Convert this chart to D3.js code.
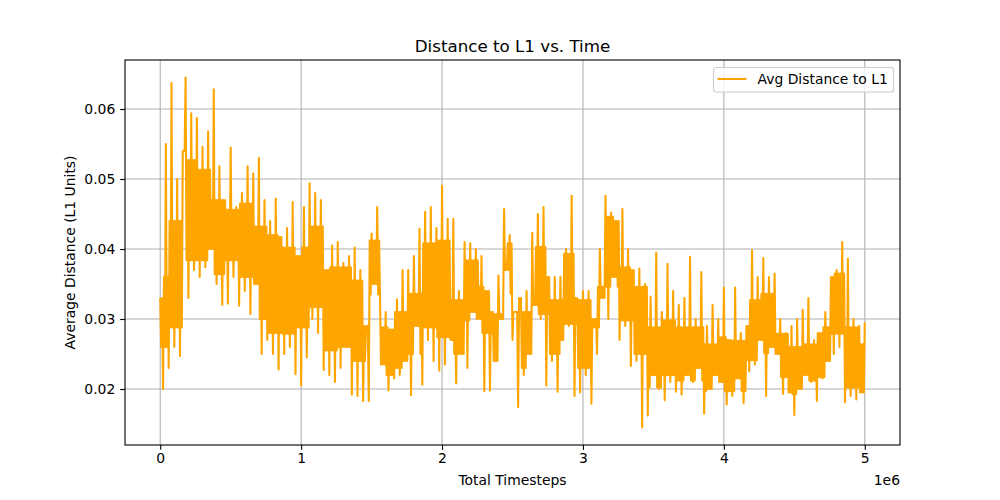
<!DOCTYPE html>
<html>
<head>
<meta charset="utf-8">
<script src="https://cdn.jsdelivr.net/npm/d3@7"></script>
<style>
  body { margin: 0; background: #fff; }
  svg { display: block; font-family: "DejaVu Sans", sans-serif; }
  .grid line { stroke: #b0b0b0; stroke-width: 1.1; }
  .line { fill: none; stroke: orange; stroke-width: 2.08; stroke-linejoin: round; }
</style>
</head>
<body>
<svg id="chart" width="1000" height="500"></svg>
<script>
// logging interval of the run (timesteps between points)
var step = 20000;

var avgDistance = [
  0.033, 0.020, 0.055, 0.023, 0.0637, 0.026, 0.050, 0.0247, 0.054, 0.0645,
  0.033, 0.0594, 0.037, 0.0587, 0.036, 0.0546, 0.0374, 0.0568, 0.040, 0.0628,
  0.035, 0.0518, 0.032, 0.047, 0.0322, 0.0545, 0.036, 0.046, 0.0319, 0.048,
  0.034, 0.0518, 0.0307, 0.0508, 0.035, 0.053, 0.025, 0.047, 0.027, 0.044,
  0.025, 0.0472, 0.0228, 0.0417, 0.025, 0.043, 0.026, 0.0467, 0.0221, 0.039,
  0.0205, 0.046, 0.0245, 0.0494, 0.030, 0.048, 0.028, 0.047, 0.0227, 0.037,
  0.022, 0.0405, 0.021, 0.041, 0.023, 0.038, 0.026, 0.039, 0.0192, 0.0402,
  0.019, 0.037, 0.0183, 0.029, 0.0183, 0.0422, 0.035, 0.046, 0.033, 0.0235,
  0.031, 0.0198, 0.0285, 0.0215, 0.0328, 0.022, 0.037, 0.024, 0.037, 0.0191,
  0.039, 0.029, 0.0429, 0.0206, 0.0453, 0.027, 0.046, 0.024, 0.043, 0.0226,
  0.049, 0.0235, 0.0443, 0.027, 0.0443, 0.0208, 0.034, 0.025, 0.041, 0.023,
  0.0408, 0.031, 0.040, 0.030, 0.039, 0.0197, 0.034, 0.0198, 0.031, 0.024,
  0.0362, 0.030, 0.0457, 0.037, 0.042, 0.027, 0.031, 0.0174, 0.033, 0.022,
  0.034, 0.025, 0.0423, 0.032, 0.045, 0.030, 0.046, 0.0205, 0.036, 0.024,
  0.036, 0.0196, 0.036, 0.027, 0.040, 0.029, 0.0476, 0.019, 0.033, 0.0195,
  0.034, 0.022, 0.034, 0.0179, 0.030, 0.025, 0.040, 0.033, 0.0476, 0.030,
  0.0452, 0.036, 0.044, 0.027, 0.0457, 0.029, 0.040, 0.0233, 0.037, 0.024,
  0.0372, 0.0145, 0.035, 0.0162, 0.0332, 0.022, 0.0395, 0.020, 0.031, 0.0184,
  0.0379, 0.021, 0.034, 0.0196, 0.032, 0.0192, 0.033, 0.022, 0.0389, 0.021,
  0.030, 0.023, 0.0367, 0.0165, 0.029, 0.020, 0.032, 0.022, 0.030, 0.021,
  0.0345, 0.0178, 0.027, 0.019, 0.0345, 0.0215, 0.028, 0.018, 0.029, 0.0225,
  0.0398, 0.0235, 0.036, 0.027, 0.0387, 0.019, 0.036, 0.026, 0.0365, 0.025,
  0.030, 0.0193, 0.028, 0.0195, 0.029, 0.0163, 0.030, 0.020, 0.0313, 0.022,
  0.033, 0.021, 0.027, 0.0183, 0.028, 0.0215, 0.031, 0.024, 0.036, 0.025,
  0.037, 0.026, 0.041, 0.0181, 0.0386, 0.019, 0.030, 0.0185, 0.029, 0.0195,
  0.0295
];

// the dense core of the trace, top and bottom, read every 100k steps
var coreStep = 100000;
var coreHigh = [
  0.036, 0.044, 0.0527, 0.0513, 0.047, 0.0456, 0.0465, 0.0432, 0.042, 0.0402,
  0.0402, 0.0432, 0.0374, 0.0374, 0.0355, 0.0412, 0.0288, 0.031, 0.0336, 0.0408,
  0.0412, 0.0327, 0.0384, 0.0346, 0.0307, 0.0408, 0.031, 0.0403, 0.0327, 0.0393,
  0.0327, 0.0346, 0.0446, 0.0374, 0.0346, 0.0288, 0.0298, 0.0288, 0.0288, 0.0264,
  0.0274, 0.0269, 0.0327, 0.0336, 0.0279, 0.026, 0.0264, 0.0288, 0.0365, 0.0288,
  0.0264
];
var coreLow = [
  0.026, 0.0288, 0.0384, 0.0384, 0.0364, 0.0384, 0.036, 0.030, 0.028, 0.0279,
  0.0288, 0.0317, 0.0255, 0.026, 0.024, 0.0335, 0.022, 0.023, 0.025, 0.0288,
  0.0274, 0.025, 0.0298, 0.028, 0.023, 0.0336, 0.023, 0.0307, 0.025, 0.0293,
  0.023, 0.0288, 0.0346, 0.0298, 0.025, 0.0202, 0.022, 0.0212, 0.0212, 0.0197,
  0.0197, 0.0197, 0.0241, 0.0251, 0.0217, 0.0193, 0.0212, 0.0217, 0.0279, 0.0202,
  0.0193
];

var xTicks = [0, 1e6, 2e6, 3e6, 4e6, 5e6];
var xTickLabels = ["0", "1", "2", "3", "4", "5"];
var xOffsetLabel = "1e6";
var yTicks = [0.02, 0.03, 0.04, 0.05, 0.06];
var yTickLabels = ["0.02", "0.03", "0.04", "0.05", "0.06"];

var titleText = "Distance to L1 vs. Time";
var xLabelText = "Total Timesteps";
var yLabelText = "Average Distance (L1 Units)";
var legendText = "Avg Distance to L1";

// build the trace: each swing passes back and forth through the core band
var data = [];
avgDistance.forEach(function(v, i) {
    var t = i * step;
    data.push([t, v]);
    if (i == avgDistance.length - 1) return;
    var next = avgDistance[i + 1];
    var c = Math.min(Math.round(t / coreStep), coreHigh.length - 1);
    var lo = Math.min(v, next), hi = Math.max(v, next);
    var ch = Math.max(lo, Math.min(hi, coreHigh[c]));
    var cl = Math.max(lo, Math.min(hi, coreLow[c]));
    if (v > next) {
        data.push([t + step / 3, cl], [t + 2 * step / 3, ch]);
    } else {
        data.push([t + step / 3, ch], [t + 2 * step / 3, cl]);
    }
});

var plotLeft = 125, plotRight = 900, plotTop = 60, plotBottom = 445;

var svg = d3.select("#chart");

// matplotlib style 5% padding around the data
var xExt = d3.extent(data, function(d) { return d[0]; });
var yExt = d3.extent(data, function(d) { return d[1]; });
var xPad = (xExt[1] - xExt[0]) * 0.05;
var yPad = (yExt[1] - yExt[0]) * 0.05;

var x = d3.scaleLinear().domain([xExt[0] - xPad, xExt[1] + xPad]).range([plotLeft, plotRight]);
var y = d3.scaleLinear().domain([yExt[0] - yPad, yExt[1] + yPad]).range([plotBottom, plotTop]);

// grid
var grid = svg.append("g").attr("class", "grid");
grid.selectAll(".gx").data(xTicks).enter().append("line")
    .attr("x1", function(d) { return x(d); })
    .attr("x2", function(d) { return x(d); })
    .attr("y1", plotTop).attr("y2", plotBottom);
grid.selectAll(".gy").data(yTicks).enter().append("line")
    .attr("y1", function(d) { return y(d); })
    .attr("y2", function(d) { return y(d); })
    .attr("x1", plotLeft).attr("x2", plotRight);

// the series
var line = d3.line()
    .x(function(d) { return x(d[0]); })
    .y(function(d) { return y(d[1]); });

svg.append("path")
    .attr("class", "line")
    .datum(data)
    .attr("d", line);

// axes
var xAxis = d3.axisBottom(x)
    .tickValues(xTicks)
    .tickFormat(function(d, i) { return xTickLabels[i]; })
    .tickSize(4.86).tickPadding(3.5);
var yAxis = d3.axisLeft(y)
    .tickValues(yTicks)
    .tickFormat(function(d, i) { return yTickLabels[i]; })
    .tickSize(4.86).tickPadding(4.86);

var gx = svg.append("g").attr("transform", "translate(0," + plotBottom + ")").call(xAxis);
var gy = svg.append("g").attr("transform", "translate(" + plotLeft + ",0)").call(yAxis);

[gx, gy].forEach(function(g) {
    g.select(".domain").remove();
    g.selectAll(".tick line").attr("stroke", "#000").attr("stroke-width", 1.1);
    g.selectAll(".tick text")
        .attr("fill", "#000")
        .style("font-family", "DejaVu Sans")
        .style("font-size", "13.9px");
});

// spines
svg.append("rect")
    .attr("x", plotLeft).attr("y", plotTop)
    .attr("width", plotRight - plotLeft).attr("height", plotBottom - plotTop)
    .attr("fill", "none").attr("stroke", "#000").attr("stroke-width", 1.1);

// offset text
svg.append("text")
    .attr("x", plotRight).attr("y", 485)
    .attr("text-anchor", "end")
    .style("font-size", "13.9px")
    .text(xOffsetLabel);

// title and labels
svg.append("text")
    .attr("x", (plotLeft + plotRight) / 2).attr("y", 51.7)
    .attr("text-anchor", "middle")
    .style("font-size", "16.7px")
    .text(titleText);

svg.append("text")
    .attr("x", (plotLeft + plotRight) / 2).attr("y", 485)
    .attr("text-anchor", "middle")
    .style("font-size", "13.9px")
    .text(xLabelText);

svg.append("text")
    .attr("transform", "translate(75," + (plotTop + plotBottom) / 2 + ") rotate(-90)")
    .attr("text-anchor", "middle")
    .style("font-size", "13.9px")
    .text(yLabelText);

// legend
var legend = svg.append("g").attr("transform", "translate(713.5,67.5)");
legend.append("rect")
    .attr("width", 180).attr("height", 24.5)
    .attr("rx", 2.8)
    .attr("fill", "#fff").attr("fill-opacity", 0.8)
    .attr("stroke", "#cccccc").attr("stroke-width", 1.1);
legend.append("line")
    .attr("x1", 4).attr("x2", 33)
    .attr("y1", 11.5).attr("y2", 11.5)
    .attr("stroke", "orange").attr("stroke-width", 2.08);
legend.append("text")
    .attr("x", 44).attr("y", 16.5)
    .style("font-size", "13.9px")
    .text(legendText);
</script>
</body>
</html>
